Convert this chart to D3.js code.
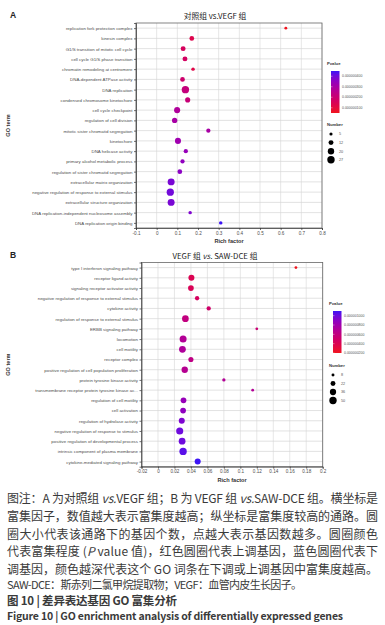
<!DOCTYPE html>
<meta charset="utf-8">
<style>
  body { margin: 0; background: #fff; }
  svg { display: block; }
  .tick text { font-family: "Liberation Sans", Arial, sans-serif; fill: #4d4d4d; }
  .cap { font-family: "Noto Sans CJK SC", "Noto Sans", sans-serif; fill: #3a3a3a; }
</style>
<svg width="385" height="625"></svg>
<script src="https://cdn.jsdelivr.net/npm/d3@7"></script>
<script>
// ---- panel A data: control vs VEGF ----
var termsA = [
  "replication fork protection complex", "kinesin complex", "G1/S transition of mitotic cell cycle",
  "cell cycle G1/S phase transition", "chromatin remodeling at centromere", "DNA-dependent ATPase activity",
  "DNA replication", "condensed chromosome kinetochore", "cell cycle checkpoint", "regulation of cell division",
  "mitotic sister chromatid segregation", "kinetochore", "DNA helicase activity",
  "primary alcohol metabolic process", "regulation of sister chromatid segregation",
  "extracellular matrix organization", "negative regulation of response to external stimulus",
  "extracellular structure organization", "DNA replication-independent nucleosome assembly",
  "DNA replication origin binding"
];
var richA  = [0.625, 0.17, 0.128, 0.137, 0.176, 0.125, 0.139, 0.15, 0.099, 0.087,
              0.25, 0.103, 0.141, 0.125, 0.112, 0.07, 0.066, 0.07, 0.162, 0.31];
var countA = [4, 11, 12, 12, 6, 11, 27, 13, 18, 14, 9, 18, 9, 9, 11, 24, 26, 24, 6, 6];
var pvalA  = [0.5e-7, 1.3e-7, 1.6e-7, 1.7e-7, 1.2e-7, 1.9e-7, 2.2e-7, 2.1e-7, 2.8e-7, 3.0e-7,
              3.0e-7, 3.2e-7, 3.4e-7, 3.5e-7, 3.6e-7, 3.9e-7, 4.0e-7, 3.9e-7, 3.8e-7, 4.5e-7];
var xTicksA = [-0.1, 0, 0.1, 0.2, 0.3, 0.4, 0.5, 0.6, 0.7, 0.8];
var pTicksA = [4e-7, 3e-7, 2e-7, 1e-7];
var pLabelsA = ["0.000000400", "0.000000300", "0.000000200", "0.000000100"];
var nTicksA = [5, 12, 20, 27];

// ---- panel B data: VEGF vs SAW-DCE ----
var termsB = [
  "type I interferon signaling pathway", "receptor ligand activity", "signaling receptor activator activity",
  "negative regulation of response to external stimulus", "cytokine activity",
  "regulation of response to external stimulus", "ERBB signaling pathway", "locomotion", "cell motility",
  "receptor complex", "positive regulation of cell population proliferation", "protein tyrosine kinase activity",
  "transmembrane receptor protein tyrosine kinase ac...", "regulation of cell motility", "cell activation",
  "regulation of hydrolase activity", "negative regulation of response to stimulus",
  "positive regulation of developmental process", "intrinsic component of plasma membrane",
  "cytokine-mediated signaling pathway"
];
var richB  = [0.1675, 0.0406, 0.040, 0.0475, 0.0616, 0.0333, 0.12, 0.0305, 0.0297, 0.040,
              0.0325, 0.080, 0.115, 0.031, 0.0305, 0.0289, 0.0264, 0.0293, 0.0305, 0.0482];
var countB = [7, 33, 30, 17, 17, 41, 7, 45, 42, 24, 37, 10, 7, 30, 30, 33, 46, 42, 50, 33];
var pvalB  = [0.2e-6, 0.4e-6, 0.42e-6, 0.45e-6, 0.5e-6, 0.6e-6, 0.55e-6, 0.7e-6, 0.72e-6, 0.62e-6,
              0.68e-6, 0.7e-6, 0.7e-6, 0.85e-6, 0.88e-6, 0.95e-6, 1.0e-6, 1.0e-6, 1.05e-6, 1.1e-6];
var xTicksB = [-0.02, 0, 0.02, 0.04, 0.06, 0.08, 0.1, 0.12, 0.14, 0.16, 0.18, 0.2];
var pTicksB = [1e-6, 8e-7, 6e-7, 4e-7, 2e-7];
var pLabelsB = ["0.000001000", "0.000000800", "0.000000600", "0.000000400", "0.000000200"];
var nTicksB = [8, 22, 36, 50];

var captionLines = [
  "图注：A 为对照组 <i>vs.</i>VEGF 组；B 为 VEGF 组 <i>vs.</i>SAW-DCE 组。横坐标是",
  "富集因子，数值越大表示富集度越高；纵坐标是富集度较高的通路。圆",
  "圈大小代表该通路下的基因个数，点越大表示基因数越多。圆圈颜色",
  "代表富集程度 (<i>P</i> value 值)，红色圆圈代表上调基因，蓝色圆圈代表下",
  "调基因，颜色越深代表这个 GO 词条在下调或上调基因中富集度越高。"
];

var svg = d3.select("svg");
var defs = svg.append("defs");
var RED = "#f0141e", BLUE = "#3c14f5";

function fmt(d) { return String(+d.toFixed(2)).replace("\u2212", "-"); }

function panel(o) {
  var g = svg.append("g");
  var x = d3.scaleLinear().domain(o.xDomain).range([o.left, o.right]);
  var y = d3.scalePoint().domain(o.terms).range([o.top, o.bottom]).padding(0.5);
  var r = d3.scaleSqrt().domain([0, o.nMax]).range([0, o.rMax]);
  var pExt = d3.extent(o.pval);
  var color = d3.scaleLinear().domain(pExt).range([RED, BLUE]).interpolate(d3.interpolateLab);

  // grid
  g.selectAll(".vg").data(o.xTicks).join("line")
    .attr("x1", d => x(d)).attr("x2", d => x(d)).attr("y1", o.top).attr("y2", o.bottom)
    .attr("stroke", "#dcdcdc").attr("stroke-width", 0.7);
  g.selectAll(".hg").data(o.terms).join("line")
    .attr("x1", o.left).attr("x2", o.right).attr("y1", d => y(d)).attr("y2", d => y(d))
    .attr("stroke", "#d6d6d6").attr("stroke-width", 0.7);
  g.append("rect").attr("x", o.left).attr("y", o.top)
    .attr("width", o.right - o.left).attr("height", o.bottom - o.top)
    .attr("fill", "none").attr("stroke", "#666").attr("stroke-width", 0.8);

  // points
  g.selectAll("circle.pt").data(o.terms).join("circle")
    .attr("cx", (d, i) => x(o.rich[i])).attr("cy", d => y(d))
    .attr("r", (d, i) => r(o.count[i])).attr("fill", (d, i) => color(o.pval[i]));

  // axes
  var ax = g.append("g").attr("transform", "translate(0," + o.bottom + ")")
    .call(d3.axisBottom(x).tickValues(o.xTicks).tickFormat(fmt).tickSize(2).tickPadding(1.5));
  ax.selectAll("text").attr("font-size", 4.6);
  var ay = g.append("g").attr("transform", "translate(" + o.left + ",0)")
    .call(d3.axisLeft(y).tickSize(2).tickPadding(1.5));
  ay.selectAll("text").attr("font-size", 4.4);
  g.selectAll(".domain, .tick line").attr("stroke", "#333").attr("stroke-width", 0.7);

  g.append("text").attr("x", (o.left + o.right) / 2).attr("y", o.bottom + 15)
    .attr("text-anchor", "middle").attr("font-family", "Liberation Sans, Arial")
    .attr("font-weight", "bold").attr("font-size", 5.6).attr("fill", "#333").text("Rich factor");
  g.append("text").attr("transform", "translate(10," + (o.top + o.bottom) / 2 + ") rotate(-90)")
    .attr("text-anchor", "middle").attr("font-family", "Liberation Sans, Arial")
    .attr("font-weight", "bold").attr("font-size", 5.6).attr("fill", "#333").text("GO term");

  // title and letter
  g.append("text").attr("x", 10).attr("y", o.top - 5).attr("font-family", "Liberation Sans, Arial")
    .attr("font-weight", "bold").attr("font-size", 8.5).attr("fill", "#222").text(o.letter);
  g.append("text").attr("x", 215).attr("y", o.top - 4).attr("text-anchor", "middle")
    .attr("font-family", "Noto Sans CJK SC, sans-serif").attr("font-size", 7.8).attr("fill", "#222")
    .html(o.title);

  // p-value legend
  var gid = "grad" + o.letter;
  var lg = defs.append("linearGradient").attr("id", gid).attr("x1", 0).attr("x2", 0).attr("y1", 1).attr("y2", 0);
  d3.range(0, 1.01, 0.1).forEach(function (t) {
    lg.append("stop").attr("offset", t).attr("stop-color", color(pExt[0] + t * (pExt[1] - pExt[0])));
  });
  var py = d3.scaleLinear().domain(pExt).range([o.legBarBottom, o.legBarTop]);
  g.append("text").attr("x", o.legX - 4).attr("y", o.legBarTop - 6).attr("font-family", "Liberation Sans, Arial")
    .attr("font-weight", "bold").attr("font-size", 4.2).attr("fill", "#333").text("Pvalue");
  g.append("rect").attr("x", o.legX).attr("y", o.legBarTop).attr("width", 8.5)
    .attr("height", o.legBarBottom - o.legBarTop).attr("fill", "url(#" + gid + ")");
  g.selectAll(".pl").data(o.pTicks).join("text")
    .attr("x", o.legX + 11).attr("y", d => py(d) + 1.2).attr("font-family", "Liberation Sans, Arial")
    .attr("font-size", 3.5).attr("fill", "#555").text((d, i) => o.pLabels[i]);
  g.selectAll(".pt2").data(o.pTicks).join("line")
    .attr("x1", o.legX).attr("x2", o.legX + 1.5).attr("y1", d => py(d)).attr("y2", d => py(d))
    .attr("stroke", "#fff").attr("stroke-width", 0.4);

  // count legend
  g.append("text").attr("x", o.legX - 4).attr("y", o.nTitleY).attr("font-family", "Liberation Sans, Arial")
    .attr("font-weight", "bold").attr("font-size", 4.2).attr("fill", "#333").text("Number");
  g.selectAll(".nc").data(o.nTicks).join("circle")
    .attr("cx", o.legX).attr("cy", (d, i) => o.nTitleY + 8 + i * o.nStep)
    .attr("r", d => r(d)).attr("fill", "#000");
  g.selectAll(".nt").data(o.nTicks).join("text")
    .attr("x", o.legX + 8).attr("y", (d, i) => o.nTitleY + 9.3 + i * o.nStep)
    .attr("font-family", "Liberation Sans, Arial").attr("font-size", 3.8).attr("fill", "#555").text(d => d);
}

panel({
  letter: "A", title: "对照组 vs.VEGF 组",
  terms: termsA, rich: richA, count: countA, pval: pvalA,
  xDomain: [-0.1, 0.8], xTicks: xTicksA, left: 136, right: 322, top: 23, bottom: 228,
  nMax: 27, rMax: 3.7, pTicks: pTicksA, pLabels: pLabelsA, nTicks: nTicksA,
  legX: 331, legBarTop: 71, legBarBottom: 113, nTitleY: 126, nStep: 8.6
});
panel({
  letter: "B", title: "VEGF 组 <tspan font-style='italic'>vs.</tspan> SAW-DCE 组",
  terms: termsB, rich: richB, count: countB, pval: pvalB,
  xDomain: [-0.02, 0.2], xTicks: xTicksB, left: 141.5, right: 322.7, top: 262.5, bottom: 466.7,
  nMax: 50, rMax: 3.7, pTicks: pTicksB, pLabels: pLabelsB, nTicks: nTicksB,
  legX: 333, legBarTop: 311, legBarBottom: 353, nTitleY: 367, nStep: 8.5
});

// caption
var capY = [502.5, 520.5, 538.5, 556, 573.5];
captionLines.forEach(function (s, i) {
  svg.append("text").attr("class", "cap").attr("x", 7).attr("y", capY[i])
    .attr("font-size", 12).attr("textLength", 371).attr("lengthAdjust", "spacing")
    .html(s.replace(/<i>/g, "<tspan font-style='italic'>").replace(/<\/i>/g, "</tspan>"));
});
svg.append("text").attr("class", "cap").attr("x", 7).attr("y", 589).attr("font-size", 11)
  .attr("textLength", 295).attr("lengthAdjust", "spacing")
  .text("SAW-DCE：斯赤列二氯甲烷提取物；VEGF：血管内皮生长因子。");
svg.append("text").attr("class", "cap").attr("x", 7).attr("y", 605).attr("font-size", 11.5)
  .attr("font-weight", "bold").attr("fill", "#222").attr("textLength", 170).attr("lengthAdjust", "spacing")
  .text("图 10 | 差异表达基因 GO 富集分析");
svg.append("text").attr("class", "cap").attr("x", 7).attr("y", 620).attr("font-size", 10.5)
  .attr("font-weight", "bold").attr("fill", "#222").attr("textLength", 336).attr("lengthAdjust", "spacing")
  .text("Figure 10 | GO enrichment analysis of differentially expressed genes");
</script>
